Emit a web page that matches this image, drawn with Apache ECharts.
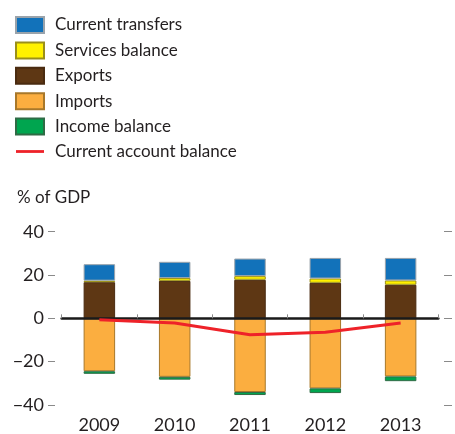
<!DOCTYPE html>
<html>
<head>
<meta charset="utf-8">
<script src="https://cdn.jsdelivr.net/npm/echarts@6/dist/echarts.min.js"></script>
<style>
  html, body { margin: 0; padding: 0; background: #fff; }
  #chart { width: 455px; height: 434px; }
</style>
</head>
<body>
<div id="chart"></div>
<script>
// Balance of payments components, % of GDP
const years = ['2009', '2010', '2011', '2012', '2013'];
const currentTransfers = [7.6, 7.5, 8.1, 9.5, 10.4];
const servicesBalance = [0.7, 1.3, 1.7, 2.0, 2.0];
const exportsShare = [16.7, 17.3, 17.8, 16.4, 15.5];
const importsShare = [-24.4, -27.0, -34.0, -32.3, -26.8];
const incomeBalance = [-1.2, -1.3, -1.4, -2.2, -2.2];
const currentAccount = [-0.6, -2.1, -7.6, -6.4, -2.1];
const yTicks = [-40, -20, 0, 20, 40];

const FONT = 'Lato';
const TEXT = '#231f20';
const RED = '#ee2229';

// thin horizontal stroke inside a 28x16 box, used as the line's legend key
const LINE_KEY = 'path://M0,0 M0,6.6 L28,6.6 L28,9.4 L0,9.4 Z M28,16';

const chart = echarts.init(document.getElementById('chart'), null, { renderer: 'canvas' });

function bar(name, data, color, border) {
  return {
    name, type: 'bar', data, stack: 'bop', xAxisIndex: 0, yAxisIndex: 0,
    barWidth: 31.5,
    itemStyle: { color, borderColor: border, borderWidth: 1 },
    emphasis: { disabled: true }
  };
}

chart.setOption({
  animation: false,
  textStyle: { fontFamily: FONT, color: TEXT },
  title: {
    text: '% of GDP', left: 12, top: 184,
    textStyle: { fontFamily: FONT, fontSize: 17, fontWeight: 'normal', color: TEXT }
  },
  legend: {
    orient: 'vertical', left: 15, top: 16, padding: 0,
    itemWidth: 28, itemHeight: 16, itemGap: 7.4,
    textStyle: { fontFamily: FONT, fontSize: 17, lineHeight: 16, color: TEXT, padding: [0, 0, 0, 6] },
    selectedMode: false,
    data: [
      { name: 'Current transfers', icon: 'rect' },
      { name: 'Services balance', icon: 'rect' },
      { name: 'Exports', icon: 'rect' },
      { name: 'Imports', icon: 'rect' },
      { name: 'Income balance', icon: 'rect' },
      { name: 'Current account balance', icon: LINE_KEY, itemStyle: { color: RED, borderWidth: 0 } }
    ]
  },
  grid: { left: 61.7, right: 16.7, top: 231.7, height: 174, containLabel: false },
  xAxis: [
    {
      type: 'category', data: years, z: 10,
      axisLine: { onZero: true, lineStyle: { color: '#1a1a1a', width: 2.6 } },
      axisTick: { show: true, inside: true, length: 4, lineStyle: { color: '#8a8a8a', width: 1 } },
      axisLabel: { show: false }
    },
    {
      type: 'category', data: years, position: 'bottom',
      axisLine: { show: false, onZero: false }, axisTick: { show: false },
      axisLabel: { margin: 11, fontFamily: FONT, fontSize: 18, color: TEXT }
    }
  ],
  yAxis: [
    {
      type: 'value', min: yTicks[0], max: yTicks[yTicks.length - 1], interval: 20, offset: 6.7,
      axisLine: { show: false },
      axisTick: { show: true, length: 7, lineStyle: { color: '#8a8a8a', width: 1 } },
      axisLabel: {
        margin: 11, fontFamily: FONT, fontSize: 18, color: TEXT,
        formatter: v => (v < 0 ? '\u2212' + Math.abs(v) : String(v))
      },
      splitLine: { show: false }
    },
    {
      type: 'value', position: 'right', min: yTicks[0], max: yTicks[yTicks.length - 1], interval: 20, offset: 5.7,
      axisLine: { show: false },
      axisTick: { show: true, length: 8, lineStyle: { color: '#8a8a8a', width: 1 } },
      axisLabel: { show: false },
      splitLine: { show: false }
    }
  ],
  series: [
    bar('Exports', exportsShare, '#5e3714', '#4a2b10'),
    bar('Services balance', servicesBalance, '#fff100', '#9a8f1a'),
    bar('Current transfers', currentTransfers, '#1272ba', '#9aa3ab'),
    bar('Imports', importsShare, '#fbae40', '#a8782a'),
    bar('Income balance', incomeBalance, '#00a54f', '#2f6b45'),
    {
      name: 'Current account balance', type: 'line', data: currentAccount,
      xAxisIndex: 0, yAxisIndex: 0, z: 12, symbol: 'none',
      lineStyle: { color: RED, width: 3 }, itemStyle: { color: RED },
      emphasis: { disabled: true }
    }
  ]
});
</script>
</body>
</html>
